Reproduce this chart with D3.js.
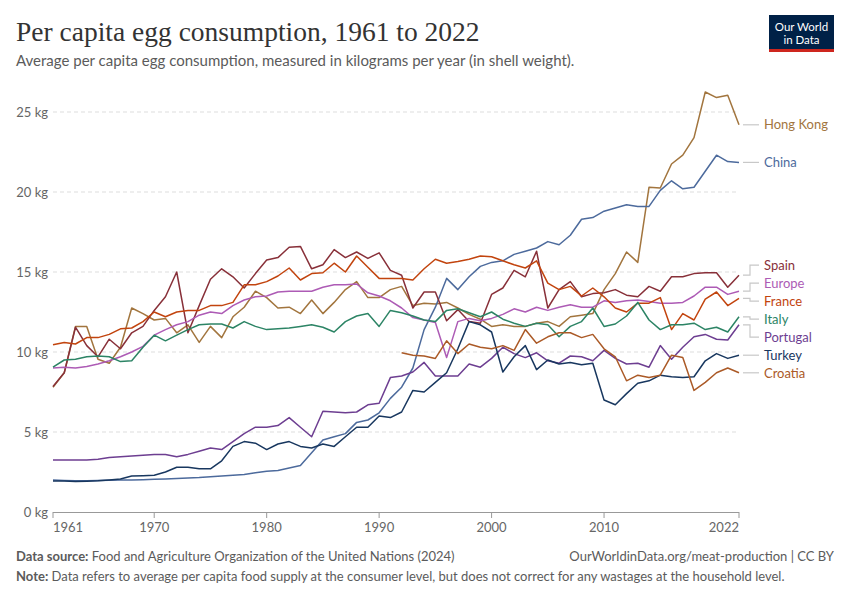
<!DOCTYPE html>
<html>
<head>
<meta charset="utf-8">
<script src="https://cdn.jsdelivr.net/npm/d3@7"></script>
<style>
  body { margin: 0; background: #fff; }
  text { font-family: Lato, "Noto Sans", sans-serif; }
</style>
</head>
<body>
<svg id="chart" width="850" height="600"></svg>
<script>
// years on the x axis
const years = d3.range(1961, 2023);
const croatiaYears = d3.range(1992, 2023);

// kg per person per year
const hongKong = [7.8, 8.7, 11.6, 11.6, 9.55, 9.3, 10.3, 12.75, 12.4, 12.0,
  12.1, 11.2, 11.7, 10.6, 11.6, 10.9, 12.2, 12.8, 13.8, 13.4,
  12.75, 12.8, 12.4, 13.25, 12.4, 13.1, 13.9, 14.4, 13.4, 13.4,
  13.9, 14.1, 12.9, 13.05, 13.0, 13.1, 12.75, 12.35, 12.05, 11.6,
  11.7, 11.6, 11.6, 11.8, 11.9, 11.6, 12.2, 12.3, 12.4, 13.9,
  14.9, 16.25, 15.6, 20.3, 20.25, 21.75, 22.3, 23.4, 26.25, 25.9,
  26.05, 24.2];
const china = [2.0, 1.97, 1.95, 1.95, 1.97, 1.98, 2.0, 2.0, 2.02, 2.05,
  2.07, 2.1, 2.12, 2.15, 2.2, 2.25, 2.3, 2.35, 2.45, 2.55,
  2.6, 2.75, 2.9, 3.7, 4.5, 4.7, 4.9, 5.6, 5.75, 6.2,
  7.1, 7.8, 9.0, 11.4, 12.8, 14.6, 13.9, 14.7, 15.35, 15.6,
  15.7, 16.1, 16.3, 16.5, 16.9, 16.7, 17.3, 18.3, 18.4, 18.8,
  19.0, 19.2, 19.1, 19.1, 20.1, 20.7, 20.2, 20.3, 21.3, 22.3,
  21.9, 21.85];
const spain = [7.85, 8.7, 11.55, 10.4, 9.7, 10.8, 10.2, 11.2, 11.6, 12.6,
  13.45, 15.0, 11.2, 12.9, 14.55, 15.2, 14.7, 14.0, 14.9, 15.75,
  15.9, 16.55, 16.6, 15.2, 15.45, 16.4, 15.9, 16.25, 15.85, 16.2,
  15.1, 14.8, 12.75, 13.75, 13.75, 11.95, 12.65, 11.9, 11.8, 13.6,
  14.0, 15.1, 14.7, 16.3, 12.75, 13.9, 14.4, 13.45, 13.65, 13.7,
  13.9, 13.55, 13.45, 14.1, 13.8, 14.7, 14.7, 14.9, 14.95, 14.95,
  14.05, 14.8];
const europe = [9.0, 9.05, 9.0, 9.1, 9.25, 9.45, 9.7, 10.0, 10.35, 11.05,
  11.4, 11.7, 11.9, 12.3, 12.5, 12.4, 12.9, 13.25, 13.45, 13.5,
  13.75, 13.8, 13.8, 13.8, 14.05, 14.2, 14.2, 14.25, 13.7, 13.5,
  13.2, 12.75, 12.15, 12.0, 11.85, 9.65, 11.9, 12.1, 11.95, 12.1,
  12.35, 12.7, 12.5, 12.8, 12.6, 12.8, 12.95, 12.8, 12.8, 13.2,
  13.1, 13.2, 13.25, 13.15, 13.05, 13.05, 13.1, 13.5, 14.05, 14.05,
  13.6, 13.8];
const france = [10.45, 10.6, 10.5, 10.9, 10.9, 11.1, 11.45, 11.5, 11.9, 12.5,
  12.2, 12.5, 12.6, 12.6, 12.9, 12.9, 13.1, 14.2, 14.2, 14.4,
  14.75, 15.25, 14.5, 14.9, 14.95, 15.55, 15.0, 16.0, 15.3, 14.6,
  14.6, 14.6, 14.5, 15.2, 15.8, 15.55, 15.65, 15.8, 16.0, 15.95,
  15.7, 15.45, 15.25, 15.7, 14.3, 13.9, 14.1, 13.5, 14.0, 13.45,
  12.75, 12.5, 13.05, 13.05, 13.4, 11.4, 12.4, 12.0, 13.3, 13.75,
  12.9, 13.35];
const italy = [9.05, 9.5, 9.55, 9.7, 9.75, 9.7, 9.4, 9.45, 10.3, 11.05,
  10.7, 11.05, 11.4, 11.7, 11.75, 11.75, 11.5, 11.9, 11.6, 11.4,
  11.45, 11.5, 11.6, 11.7, 11.55, 11.25, 11.9, 12.25, 12.4, 11.6,
  12.6, 12.45, 12.25, 12.0, 11.9, 12.6, 12.7, 12.45, 12.2, 12.5,
  12.05, 11.8, 11.6, 11.8, 11.7, 10.95, 11.6, 11.9, 12.75, 11.6,
  11.75, 12.25, 13.1, 12.0, 11.4, 11.7, 11.7, 11.8, 11.4, 11.55,
  11.25, 12.2];
const portugal = [3.25, 3.25, 3.25, 3.25, 3.3, 3.4, 3.45, 3.5, 3.55, 3.6,
  3.6, 3.45, 3.6, 3.8, 4.0, 3.9, 4.4, 4.9, 5.3, 5.3,
  5.4, 5.9, 5.3, 4.7, 6.3, 6.25, 6.2, 6.25, 6.7, 6.8,
  8.4, 8.5, 8.75, 9.35, 8.5, 8.5, 8.5, 9.25, 9.05, 9.6,
  10.3, 9.9, 9.65, 9.95, 9.45, 9.3, 9.75, 9.7, 9.45, 10.1,
  9.6, 9.25, 9.3, 9.05, 10.4, 9.55, 10.3, 10.95, 11.1, 10.8,
  10.75, 11.7];
const turkey = [1.94, 1.94, 1.9, 1.92, 1.95, 2.0, 2.06, 2.25, 2.27, 2.3,
  2.5, 2.8, 2.8, 2.7, 2.7, 3.2, 4.1, 4.4, 4.3, 3.9,
  4.25, 4.4, 4.1, 4.0, 4.25, 4.1, 4.7, 5.3, 5.3, 6.0,
  5.9, 6.25, 7.6, 7.5, 8.1, 8.7, 10.2, 11.9, 11.7, 11.25,
  8.75, 9.7, 10.4, 8.9, 9.5, 9.25, 9.35, 9.2, 9.3, 7.0,
  6.7, 7.4, 8.05, 8.2, 8.55, 8.45, 8.4, 8.45, 9.45, 9.9,
  9.6, 9.8];
const croatia = [9.95, 9.8, 9.75, 9.6, 10.7, 9.9, 10.5, 10.3, 10.2, 10.4,
  10.1, 11.4, 10.55, 10.95, 11.2, 11.2, 10.9, 11.1, 10.2, 9.7,
  8.2, 8.55, 8.4, 8.55, 9.8, 9.65, 7.6, 8.1, 8.7, 9.0,
  8.7];

const yTicks = [0, 5, 10, 15, 20, 25];
const xTicks = [1961, 1970, 1980, 1990, 2000, 2010, 2022];

const series = [
  { name: 'Hong Kong', color: '#A2753E', years: years, values: hongKong },
  { name: 'China', color: '#4C6A9C', years: years, values: china },
  { name: 'Spain', color: '#883039', years: years, values: spain },
  { name: 'Europe', color: '#AD5BB5', years: years, values: europe },
  { name: 'France', color: '#C2440E', years: years, values: france },
  { name: 'Italy', color: '#2C8465', years: years, values: italy },
  { name: 'Portugal', color: '#6D3E91', years: years, values: portugal },
  { name: 'Turkey', color: '#18375F', years: years, values: turkey },
  { name: 'Croatia', color: '#AB5A27', years: croatiaYears, values: croatia },
];

const svg = d3.select('#chart');

const x = d3.scaleLinear().domain([1961, 2022]).range([53, 739]);
const y = d3.scaleLinear().domain([0, 25]).range([512, 112]);

// header
svg.append('text')
   .attr('x', 16).attr('y', 41)
   .style('font-family', '"Liberation Serif", "DejaVu Serif", serif')
   .style('font-size', '27.5px')
   .attr('fill', '#333')
   .text('Per capita egg consumption, 1961 to 2022');

svg.append('text')
   .attr('x', 16).attr('y', 66)
   .style('font-size', '15px')
   .attr('fill', '#5b5b5b')
   .text('Average per capita egg consumption, measured in kilograms per year (in shell weight).');

// logo
const logo = svg.append('g');
logo.append('rect').attr('x', 769).attr('y', 15).attr('width', 65).attr('height', 37).attr('fill', '#002147');
logo.append('rect').attr('x', 769).attr('y', 49).attr('width', 65).attr('height', 3).attr('fill', '#CE261E');
logo.append('text').attr('x', 801.5).attr('y', 31).attr('text-anchor', 'middle')
    .style('font-size', '11.5px').attr('fill', '#fff').text('Our World');
logo.append('text').attr('x', 801.5).attr('y', 44).attr('text-anchor', 'middle')
    .style('font-size', '11.5px').attr('fill', '#fff').text('in Data');

// grid + y labels
svg.selectAll('.grid')
   .data(yTicks.filter((t) => t > 0))
   .enter()
   .append('line')
   .attr('x1', 53).attr('x2', 739)
   .attr('y1', (t) => y(t)).attr('y2', (t) => y(t))
   .attr('stroke', '#ddd')
   .attr('stroke-dasharray', '4,3');

svg.selectAll('.ylab')
   .data(yTicks)
   .enter()
   .append('text')
   .attr('x', 48)
   .attr('y', (t) => y(t) + 4.5)
   .attr('text-anchor', 'end')
   .style('font-size', '13px')
   .attr('fill', '#666')
   .text((t) => `${t} kg`);

// x axis
svg.append('line')
   .attr('x1', 53).attr('x2', 739)
   .attr('y1', 512.5).attr('y2', 512.5)
   .attr('stroke', '#999');

svg.selectAll('.xtick')
   .data(xTicks)
   .enter()
   .append('line')
   .attr('x1', (t) => x(t)).attr('x2', (t) => x(t))
   .attr('y1', 512).attr('y2', 518)
   .attr('stroke', '#999');

svg.selectAll('.xlab')
   .data(xTicks)
   .enter()
   .append('text')
   .attr('x', (t) => x(t))
   .attr('y', 532)
   .attr('text-anchor', (t, i) => (i === 0 ? 'start' : i === xTicks.length - 1 ? 'end' : 'middle'))
   .style('font-size', '13px')
   .attr('fill', '#666')
   .text((t) => t);

// lines
const line = d3.line()
  .x((d) => x(d[0]))
  .y((d) => y(d[1]));

svg.selectAll('.series')
   .data(series)
   .enter()
   .append('path')
   .attr('d', (s) => line(s.years.map((yr, i) => [yr, s.values[i]])))
   .attr('fill', 'none')
   .attr('stroke', (s) => s.color)
   .attr('stroke-width', 1.5)
   .attr('stroke-linejoin', 'round');

// end labels, nudged apart so they don't overlap
const gap = 18;
const labels = series.map((s) => ({
  s: s,
  target: y(s.values[s.values.length - 1]),
})).sort((a, b) => a.target - b.target);

let groups = labels.map((l) => ({ items: [l], mean: l.target }));
let moved = true;
while (moved) {
  moved = false;
  for (let i = 0; i < groups.length - 1; i++) {
    const a = groups[i], b = groups[i + 1];
    const aBottom = a.mean + (a.items.length - 1) * gap / 2;
    const bTop = b.mean - (b.items.length - 1) * gap / 2;
    if (bTop - aBottom < gap) {
      const items = a.items.concat(b.items);
      groups.splice(i, 2, { items: items, mean: d3.mean(items, (d) => d.target) });
      moved = true;
      break;
    }
  }
}
groups.forEach((g) => {
  g.items.forEach((l, i) => {
    l.pos = g.mean + (i - (g.items.length - 1) / 2) * gap;
  });
});

labels.forEach((l) => {
  const path = Math.abs(l.pos - l.target) < 1
    ? `M743,${l.target}H759`
    : `M743,${l.target}H750V${l.pos}H759`;
  svg.append('path')
     .attr('d', path)
     .attr('fill', 'none')
     .attr('stroke', '#c8c8c8')
     .attr('stroke-width', 1.2);
  svg.append('text')
     .attr('x', 764)
     .attr('y', l.pos + 4.5)
     .style('font-size', '13px')
     .attr('fill', l.s.color)
     .text(l.s.name);
});

// footer
const src = svg.append('text').attr('x', 16).attr('y', 561)
   .style('font-size', '13px').attr('fill', '#5b5b5b');
src.append('tspan').style('font-weight', 'bold').text('Data source:');
src.append('tspan').text(' Food and Agriculture Organization of the United Nations (2024)');

svg.append('text')
   .attr('x', 834).attr('y', 561)
   .attr('text-anchor', 'end')
   .style('font-size', '13px').attr('fill', '#5b5b5b')
   .text('OurWorldinData.org/meat-production | CC BY');

const note = svg.append('text').attr('x', 16).attr('y', 581)
   .style('font-size', '13px').attr('fill', '#5b5b5b');
note.append('tspan').style('font-weight', 'bold').text('Note:');
note.append('tspan').text(' Data refers to average per capita food supply at the consumer level, but does not correct for any wastages at the household level.');
</script>
</body>
</html>
